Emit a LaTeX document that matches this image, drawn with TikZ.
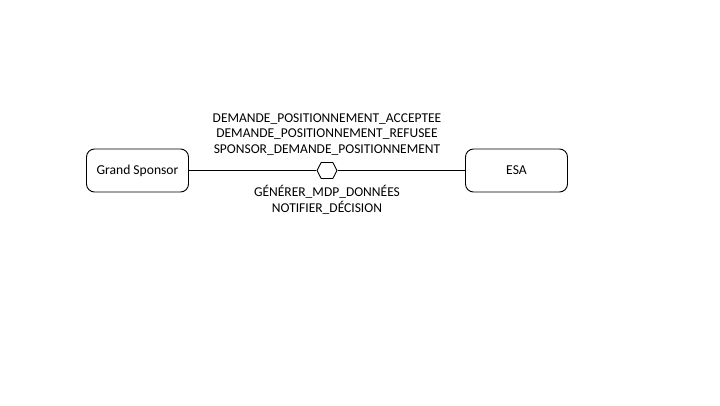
\documentclass[tikz,border=0pt]{standalone}
\usepackage{fontspec}
\setmainfont{Carlito}
\usetikzlibrary{shapes.symbols}
\begin{document}
\begin{tikzpicture}[
    x=1pt, y=-1pt,
    actor/.style={draw, rectangle, rounded corners=8pt, line width=0.9pt, minimum width=102pt, minimum height=43pt, font=\fontsize{13.6}{15}\selectfont},
    port/.style={draw, signal, signal to=west and east, signal pointer angle=125, line width=0.9pt, minimum width=20pt, minimum height=16pt, inner sep=0pt},
    msgs/.style={align=center, font=\fontsize{13.5}{15.5}\selectfont},
    link/.style={line width=0.9pt}
]
\useasboundingbox (0,0) rectangle (720,405);

% Actors
\node[actor] (sponsor) at (137.5,170.5) {Grand Sponsor};
\node[actor] (esa) at (516.5,170.5) {ESA};

% Interface
\node[port] (iface) at (327,170.5) {};

% Links
\draw[link] (sponsor.east) -- (iface.west);
\draw[link] (iface.east) -- (esa.west);

% Messages
\node[msgs] (inmsgs) at (327,134.5) {DEMANDE\_POSITIONNEMENT\_ACCEPTEE\\DEMANDE\_POSITIONNEMENT\_REFUSEE\\SPONSOR\_DEMANDE\_POSITIONNEMENT};
\node[msgs] (outmsgs) at (327,200) {GÉNÉRER\_MDP\_DONNÉES\\NOTIFIER\_DÉCISION};

\end{tikzpicture}
\end{document}
